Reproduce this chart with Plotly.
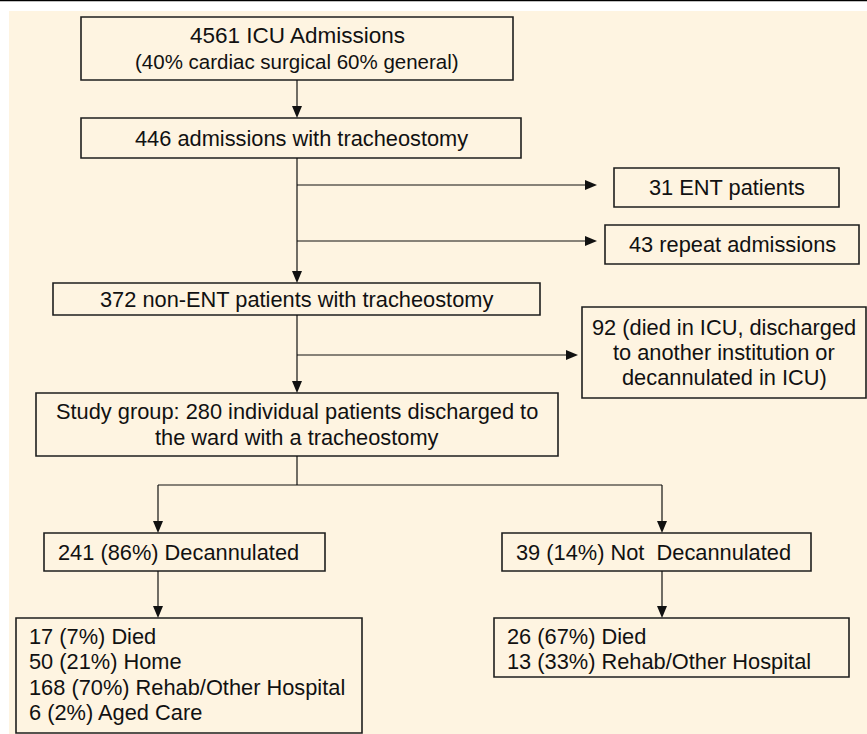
import plotly.graph_objects as go

# ---------------- data: flow labels ----------------
stage_labels = [
    ["4561 ICU Admissions", "(40% cardiac surgical 60% general)"],
    ["446 admissions with tracheostomy"],
    ["372 non-ENT patients with tracheostomy"],
    ["Study group: 280 individual patients discharged to", "the ward with a tracheostomy"],
]
exclusion_labels = [
    ["31 ENT patients"],
    ["43 repeat admissions"],
    ["92 (died in ICU, discharged", "to another institution or", "decannulated in ICU)"],
]
branch_labels = ["241 (86%) Decannulated", "39 (14%) Not  Decannulated"]
outcome_decannulated = ["17 (7%) Died", "50 (21%) Home",
                        "168 (70%) Rehab/Other Hospital", "6 (2%) Aged Care"]
outcome_not_decannulated = ["26 (67%) Died", "13 (33%) Rehab/Other Hospital"]

# ---------------- layout geometry (pixels) ----------------
W, H = 867, 734
stage_boxes = [(81, 513, 17, 80), (81, 521, 118, 158), (53, 540, 283, 315), (36, 558, 393, 456)]
stage_font_sizes = [[22.5, 20.5], [21.8], [21.8], [21.8, 21.8]]
excl_boxes = [(614, 839, 168, 207), (605, 859, 225, 264), (582, 866, 307, 398)]
excl_branch_y = [185, 241, 355]
excl_arrow_end = [597, 597, 578]
branch_boxes = [(44, 325, 533, 571), (502, 811, 533, 571)]
outcome_boxes = [(16, 362, 618, 733), (494, 849, 618, 677)]
spine_x = 297
split_y = 485
branch_x = [158, 662]

FAMILY = "Liberation Sans, Arial, sans-serif"
BASE_SIZE = 21.8
TEXT_COLOR = "#111111"
LINE_H = 25.3
BORDER = dict(color="#1e1e1e", width=1.6)
ARROW_COLOR = "#111111"
HEAD_L, HEAD_W = 12, 10

shapes = []
annotations = []

# page background and top rule
shapes.append(dict(type="rect", xref="x", yref="y", x0=9, x1=W, y0=11, y1=H,
                   fillcolor="#FEF4E1", line=dict(width=0), layer="below"))
shapes.append(dict(type="line", xref="x", yref="y", x0=0, x1=W, y0=0.6, y1=0.6,
                   line=dict(color="#000000", width=1.5)))


def box(b):
    x0, x1, y0, y1 = b
    shapes.append(dict(type="rect", xref="x", yref="y", x0=x0, x1=x1, y0=y0, y1=y1,
                       fillcolor="rgba(0,0,0,0)", line=BORDER))


def line(x0, y0, x1, y1):
    shapes.append(dict(type="line", xref="x", yref="y", x0=x0, y0=y0, x1=x1, y1=y1,
                       line=dict(color=ARROW_COLOR, width=1.2)))


def arrow_down(x, y0, y1):
    line(x, y0, x, y1 - HEAD_L + 1)
    p = f"M {x - HEAD_W / 2},{y1 - HEAD_L} L {x + HEAD_W / 2},{y1 - HEAD_L} L {x},{y1} Z"
    shapes.append(dict(type="path", xref="x", yref="y", path=p,
                       fillcolor=ARROW_COLOR, line=dict(width=0)))


def arrow_right(y, x0, x1):
    line(x0, y, x1 - HEAD_L + 1, y)
    p = f"M {x1 - HEAD_L},{y - HEAD_W / 2} L {x1 - HEAD_L},{y + HEAD_W / 2} L {x1},{y} Z"
    shapes.append(dict(type="path", xref="x", yref="y", path=p,
                       fillcolor=ARROW_COLOR, line=dict(width=0)))


def text_lines(lines, b, align="center", pad=11, top_first=None, sizes=None):
    x0, x1, y0, y1 = b
    n = len(lines)
    if sizes is None:
        sizes = [BASE_SIZE] * n
    if top_first is None:
        cy = (y0 + y1) / 2
        start = cy - (n - 1) * LINE_H / 2
    else:
        start = y0 + top_first
    for i, (t, s) in enumerate(zip(lines, sizes)):
        if align == "center":
            x, xa = (x0 + x1) / 2, "center"
        else:
            x, xa = x0 + pad, "left"
        annotations.append(dict(x=x, y=start + i * LINE_H, xref="x", yref="y",
                                text=t, showarrow=False, xanchor=xa, yanchor="middle",
                                font=dict(family=FAMILY, size=s, color=TEXT_COLOR)))


# main stages
for lbl, b, sz in zip(stage_labels, stage_boxes, stage_font_sizes):
    box(b)
    text_lines(lbl, b, sizes=sz)

# spine arrows between stages
for a, b in zip(stage_boxes[:-1], stage_boxes[1:]):
    arrow_down(spine_x, a[3], b[2])

# exclusions
for lbl, b, y, xe in zip(exclusion_labels, excl_boxes, excl_branch_y, excl_arrow_end):
    box(b)
    text_lines(lbl, b)
    arrow_right(y, spine_x, xe)

# split into two branches
last = stage_boxes[-1]
line(spine_x, last[3], spine_x, split_y)
line(branch_x[0], split_y, branch_x[1], split_y)
for lbl, b, bx, ob, olines in zip(branch_labels, branch_boxes, branch_x, outcome_boxes,
                                 [outcome_decannulated, outcome_not_decannulated]):
    arrow_down(bx, split_y, b[2])
    box(b)
    text_lines([lbl], b, align="left", pad=12)
    arrow_down(bx, b[3], ob[2])
    box(ob)
    text_lines(olines, ob, align="left", pad=11, top_first=18.5)

fig = go.Figure()
fig.update_layout(
    width=W, height=H,
    margin=dict(l=0, r=0, t=0, b=0),
    paper_bgcolor="white", plot_bgcolor="white",
    xaxis=dict(range=[0, W], visible=False, fixedrange=True),
    yaxis=dict(range=[H, 0], visible=False, fixedrange=True),
    shapes=shapes, annotations=annotations, showlegend=False,
)
fig.write_html("out.html", config={"displayModeBar": False},
               post_script="document.body.style.margin='0px';document.body.style.padding='0px';")
